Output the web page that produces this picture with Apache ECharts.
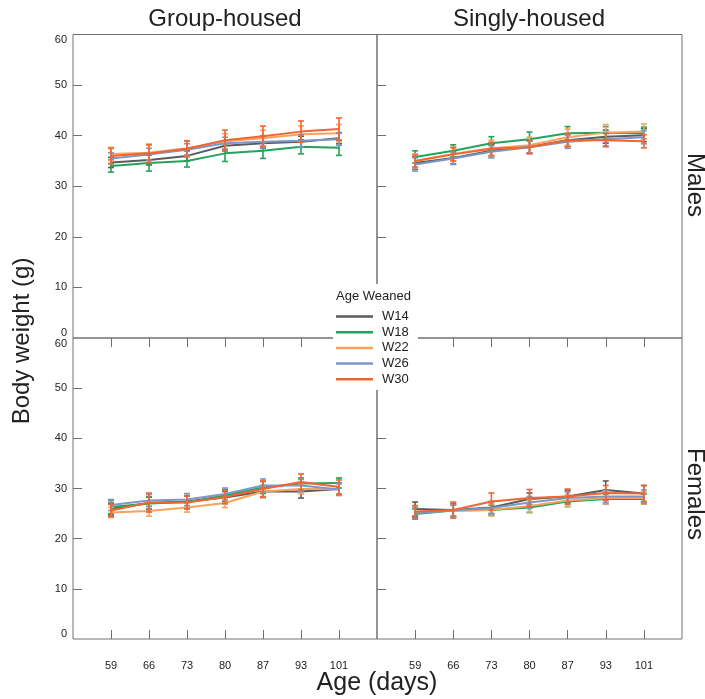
<!DOCTYPE html>
<html>
<head>
<meta charset="utf-8">
<script src="https://cdn.jsdelivr.net/npm/echarts@6/dist/echarts.min.js"></script>
<style>
html,body{margin:0;padding:0;background:#fff;}
#chart{width:705px;height:699px;}
</style>
</head>
<body>
<div id="chart"></div>
<script>
const days = [59, 66, 73, 80, 87, 93, 101];
const groups = ['W14', 'W18', 'W22', 'W26', 'W30'];
const colors = ['#5b5b5b', '#22a45a', '#f7a35c', '#7d98c8', '#f26430'];
const yTicks = [0, 10, 20, 30, 40, 50, 60];

// means per panel, rows in order of groups (W14, W18, W22, W26, W30)
const groupMalesMean = [
  [34.7, 35.2, 36.0, 38.0, 38.5, 38.8, 39.5],
  [34.0, 34.6, 35.0, 36.5, 37.0, 37.8, 37.6],
  [36.4, 36.6, 37.5, 38.9, 39.5, 40.3, 40.5],
  [35.5, 36.3, 37.2, 38.5, 38.8, 39.0, 39.3],
  [36.0, 36.5, 37.4, 39.1, 39.9, 40.8, 41.3]
];
const groupMalesErr = [
  [1.0, 1.0, 1.0, 1.0, 1.0, 1.1, 1.1],
  [1.2, 1.6, 1.2, 1.6, 1.5, 1.4, 1.5],
  [1.3, 1.5, 1.4, 1.5, 1.6, 1.6, 1.7],
  [1.1, 1.2, 1.2, 1.2, 1.2, 1.2, 1.2],
  [1.5, 1.8, 1.6, 2.0, 2.0, 2.1, 2.2]
];
const singlyMalesMean = [
  [34.6, 35.6, 37.0, 37.8, 39.1, 39.8, 40.1],
  [35.8, 37.0, 38.5, 39.3, 40.5, 40.6, 40.5],
  [35.0, 36.4, 37.5, 38.1, 39.7, 40.6, 40.8],
  [34.3, 35.5, 36.8, 37.7, 38.8, 39.3, 39.7],
  [35.0, 36.3, 37.4, 37.7, 39.1, 39.1, 38.9]
];
const singlyMalesErr = [
  [1.2, 1.2, 1.2, 1.2, 1.2, 1.3, 1.3],
  [1.2, 1.2, 1.3, 1.4, 1.3, 1.2, 1.2],
  [1.4, 1.4, 1.6, 1.6, 1.6, 1.6, 1.5],
  [1.3, 1.2, 1.2, 1.2, 1.3, 1.3, 1.3],
  [1.2, 1.3, 1.3, 1.3, 1.3, 1.3, 1.3]
];
const groupFemalesMean = [
  [25.9, 27.1, 27.4, 28.2, 29.4, 29.4, 29.9],
  [26.3, 27.0, 27.3, 28.6, 30.2, 31.0, 31.1],
  [25.2, 25.5, 26.2, 27.1, 29.4, 29.9, 29.9],
  [26.7, 27.6, 27.8, 28.9, 30.6, 30.6, 29.8],
  [25.6, 27.2, 27.2, 28.3, 29.9, 31.3, 30.3]
];
const groupFemalesErr = [
  [1.2, 1.2, 1.2, 1.2, 1.2, 1.3, 1.2],
  [1.3, 1.3, 1.2, 1.2, 1.2, 1.1, 1.0],
  [1.0, 1.0, 0.9, 0.9, 1.0, 1.0, 1.0],
  [1.1, 1.2, 1.2, 1.2, 1.3, 1.2, 1.2],
  [1.2, 1.9, 1.3, 1.3, 1.6, 1.6, 1.4]
];
const singlyFemalesMean = [
  [25.9, 25.7, 26.2, 27.9, 28.4, 29.7, 29.0],
  [24.9, 25.6, 25.7, 26.2, 27.4, 27.9, 27.9],
  [25.2, 25.6, 25.7, 26.5, 27.6, 28.1, 28.1],
  [25.1, 25.6, 26.1, 27.2, 28.1, 28.4, 28.4],
  [25.4, 25.7, 27.4, 28.1, 28.4, 29.1, 29.0]
];
const singlyFemalesErr = [
  [1.4, 1.3, 1.2, 1.2, 1.2, 1.8, 1.6],
  [1.0, 1.1, 1.0, 1.0, 1.0, 1.0, 1.0],
  [1.1, 1.2, 1.2, 1.2, 1.2, 1.2, 1.2],
  [1.1, 1.2, 1.1, 1.2, 1.2, 1.2, 1.3],
  [1.2, 1.6, 1.7, 1.7, 1.5, 1.5, 1.6]
];

const panels = [
  { mean: groupMalesMean, err: groupMalesErr },
  { mean: singlyMalesMean, err: singlyMalesErr },
  { mean: groupFemalesMean, err: groupFemalesErr },
  { mean: singlyFemalesMean, err: singlyFemalesErr }
];

const FONT = 'Liberation Sans, Arial, sans-serif';
const frameColor = '#707070';

const gridDefs = [
  { left: 73, top: 34.5, width: 304, height: 303.5 },
  { left: 377, top: 34.5, width: 305, height: 303.5 },
  { left: 73, top: 338, width: 304, height: 301 },
  { left: 377, top: 338, width: 305, height: 301 }
];

const grids = gridDefs.map(g => Object.assign({ show: true, borderColor: frameColor, borderWidth: 1, backgroundColor: 'transparent', containLabel: false }, g));

const xAxes = gridDefs.map((g, i) => ({
  type: 'value', gridIndex: i, min: 0, max: 8, interval: 1,
  axisLine: { show: false },
  splitLine: { show: false },
  axisTick: { show: true, inside: i >= 2, length: 9, customValues: [1, 2, 3, 4, 5, 6, 7], lineStyle: { color: frameColor } },
  axisLabel: {
    show: i >= 2, margin: 21, fontSize: 11, color: '#222', fontFamily: FONT,
    customValues: [1, 2, 3, 4, 5, 6, 7],
    formatter: v => (v >= 1 && v <= 7) ? String(days[v - 1]) : ''
  }
}));

const yAxes = gridDefs.map((g, i) => ({
  type: 'value', gridIndex: i, min: yTicks[0], max: yTicks[yTicks.length - 1], interval: 10,
  axisLine: { show: false },
  splitLine: { show: false },
  axisTick: { show: true, inside: true, length: 9, customValues: yTicks.slice(1, -1), lineStyle: { color: frameColor } },
  axisLabel: {
    show: i % 2 === 0, fontSize: 11, color: '#222', fontFamily: FONT, margin: 6,
    verticalAlignMinLabel: 'bottom', verticalAlignMaxLabel: 'top'
  }
}));

const series = [];
panels.forEach((p, pi) => {
  groups.forEach((gname, gi) => {
    series.push({
      name: gname, type: 'line', xAxisIndex: pi, yAxisIndex: pi,
      data: p.mean[gi].map((v, k) => [k + 1, v]),
      showSymbol: false, symbol: 'none',
      lineStyle: { color: colors[gi], width: 2 },
      itemStyle: { color: colors[gi] },
      z: 3 + gi, animation: false
    });
    const col = colors[gi];
    series.push({
      name: gname, type: 'custom', xAxisIndex: pi, yAxisIndex: pi,
      data: p.mean[gi].map((v, k) => [k + 1, v - p.err[gi][k], v + p.err[gi][k]]),
      encode: { x: 0, y: [1, 2] },
      z: 3 + gi, animation: false,
      renderItem: function (params, api) {
        const x = api.value(0);
        const lo = api.coord([x, api.value(1)]);
        const hi = api.coord([x, api.value(2)]);
        const w = 3;
        const st = { stroke: col, lineWidth: 1.6 };
        return {
          type: 'group', children: [
            { type: 'line', shape: { x1: lo[0], y1: lo[1], x2: hi[0], y2: hi[1] }, style: st },
            { type: 'line', shape: { x1: lo[0] - w, y1: lo[1], x2: lo[0] + w, y2: lo[1] }, style: st },
            { type: 'line', shape: { x1: hi[0] - w, y1: hi[1], x2: hi[0] + w, y2: hi[1] }, style: st }
          ]
        };
      }
    });
  });
});

const option = {
  backgroundColor: '#fff',
  animation: false,
  grid: grids,
  xAxis: xAxes,
  yAxis: yAxes,
  series: series,
  legend: {
    data: groups.map((g, i) => ({ name: g, itemStyle: { color: colors[i] } })),
    orient: 'vertical', left: 336, top: 310,
    icon: 'rect', itemWidth: 37, itemHeight: 2.5, itemGap: 2.7,
    textStyle: { fontSize: 13, color: '#222', fontFamily: FONT, padding: [0, 0, 0, 4] },
    selectedMode: false, padding: 0, z: 101
  },
  graphic: [
    { type: 'rect', z: 100, shape: { x: 333, y: 284, width: 85, height: 106 }, style: { fill: '#fff' } },
    { type: 'text', z: 101, left: 336, top: 290, style: { text: 'Age Weaned', fontSize: 13, fill: '#222', fontFamily: FONT } },
    { type: 'text', z: 101, x: 225, y: 19, style: { text: 'Group-housed', fontSize: 24, fill: '#222', fontFamily: FONT, align: 'center', verticalAlign: 'middle' } },
    { type: 'text', z: 101, x: 529, y: 19, style: { text: 'Singly-housed', fontSize: 24, fill: '#222', fontFamily: FONT, align: 'center', verticalAlign: 'middle' } },
    { type: 'text', z: 101, x: 377, y: 683, style: { text: 'Age (days)', fontSize: 25, fill: '#222', fontFamily: FONT, align: 'center', verticalAlign: 'middle' } },
    { type: 'text', z: 101, x: 22, y: 341, rotation: Math.PI / 2, style: { text: 'Body weight (g)', fontSize: 24, fill: '#222', fontFamily: FONT, align: 'center', verticalAlign: 'middle' } },
    { type: 'text', z: 101, x: 695, y: 185, rotation: -Math.PI / 2, style: { text: 'Males', fontSize: 24, fill: '#222', fontFamily: FONT, align: 'center', verticalAlign: 'middle' } },
    { type: 'text', z: 101, x: 695, y: 494, rotation: -Math.PI / 2, style: { text: 'Females', fontSize: 24, fill: '#222', fontFamily: FONT, align: 'center', verticalAlign: 'middle' } }
  ]
};

const chart = echarts.init(document.getElementById('chart'), null, { renderer: 'canvas' });
chart.setOption(option);
</script>
</body>
</html>
